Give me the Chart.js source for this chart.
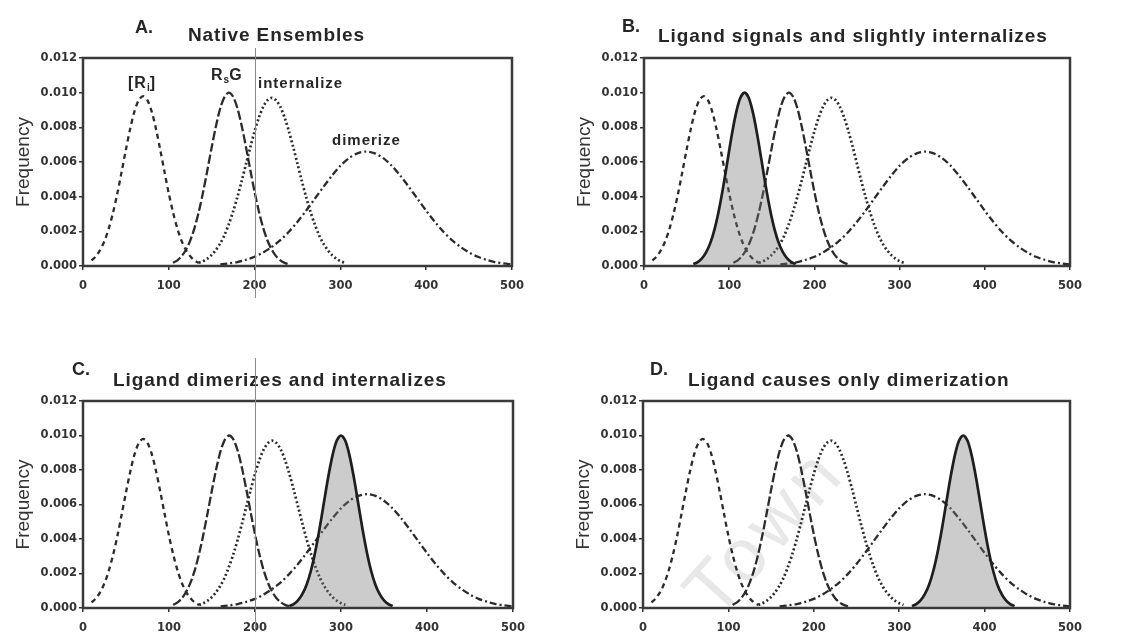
<!DOCTYPE html>
<html>
<head>
<meta charset="utf-8">
<script src="https://cdn.jsdelivr.net/npm/chart.js@4.4.1/dist/chart.umd.min.js"></script>
<style>
  body { margin: 0; width: 1125px; height: 632px; overflow: hidden; background: #fff; position: relative; font-family: "Liberation Sans", Arial, sans-serif; }
  canvas { position: absolute; }
  .t { position: absolute; font-weight: bold; color: #262626; white-space: nowrap; line-height: 20px; }
  .big { font-size: 19px; letter-spacing: 0.9px; }
  .lab { font-size: 15px; letter-spacing: 1px; }
  .lab sub { font-size: 10px; vertical-align: -3px; letter-spacing: 0; }
  .scan { position: absolute; width: 1px; background: #8a8a8a; }
  .wm { position: absolute; font-size: 74px; color: #e8e8e8; letter-spacing: 6px; transform: rotate(-48deg); transform-origin: center; }
</style>
</head>
<body>
<div class="wm" style="left:665px; top:488px;">Town</div>

<canvas id="chartA" width="535" height="290" style="left:0px; top:30px;"></canvas>
<canvas id="chartB" width="532" height="290" style="left:561px; top:30px;"></canvas>
<canvas id="chartC" width="536" height="289" style="left:0px; top:373px;"></canvas>
<canvas id="chartD" width="533" height="289" style="left:560px; top:373px;"></canvas>

<div class="t" style="left:135px; top:17px; font-size:18px;">A.</div>
<div class="t big" style="left:188px; top:25px;">Native Ensembles</div>
<div class="t" style="left:622px; top:16px; font-size:18px;">B.</div>
<div class="t big" style="left:658px; top:26px;">Ligand signals and slightly internalizes</div>
<div class="t" style="left:72px; top:359px; font-size:18px;">C.</div>
<div class="t big" style="left:113px; top:370px;">Ligand dimerizes and internalizes</div>
<div class="t" style="left:650px; top:359px; font-size:18px;">D.</div>
<div class="t big" style="left:688px; top:370px;">Ligand causes only dimerization</div>

<div class="t lab" style="left:128px; top:73px; font-size:16px;">[R<sub>i</sub>]</div>
<div class="t lab" style="left:211px; top:65px; font-size:16px;">R<sub>s</sub>G</div>
<div class="t lab" style="left:258px; top:73px;">internalize</div>
<div class="t lab" style="left:332px; top:130px;">dimerize</div>

<div class="scan" style="left:255px; top:48px; height:250px;"></div>
<div class="scan" style="left:255px; top:358px; height:274px;"></div>

<script>
// axis ticks
const xTicks = [0, 100, 200, 300, 400, 500];
const yTicks = [0, 0.002, 0.004, 0.006, 0.008, 0.010, 0.012];

// native ensembles (same in every panel)
const riX = [10, 15, 20, 25, 30, 35, 40, 45, 50, 55, 60, 65, 70, 75, 80, 85, 90, 95, 100, 105, 110, 115, 120, 125, 130, 135];
const riY = [0.00032, 0.00056, 0.00092, 0.00144, 0.00216, 0.00308, 0.00418, 0.00543, 0.00671, 0.00792, 0.00892, 0.00957, 0.0098,
             0.00957, 0.00892, 0.00792, 0.00671, 0.00543, 0.00418, 0.00308, 0.00216, 0.00144, 0.00092, 0.00056, 0.00032, 0.00018];

const rsgX = [105, 110, 115, 120, 125, 130, 135, 140, 145, 150, 155, 160, 165, 170, 175, 180, 185, 190, 195, 200, 205, 210, 215, 220, 225, 230, 235, 240];
const rsgY = [0.00018, 0.00033, 0.00057, 0.00094, 0.00147, 0.0022, 0.00314, 0.00427, 0.00554, 0.00685, 0.00808, 0.0091, 0.00976, 0.0100,
              0.00976, 0.0091, 0.00808, 0.00685, 0.00554, 0.00427, 0.00314, 0.0022, 0.00147, 0.00094, 0.00057, 0.00033, 0.00018, 0.0001];

const intX = [135, 140, 145, 150, 155, 160, 165, 170, 175, 180, 185, 190, 195, 200, 205, 210, 215, 220,
              225, 230, 235, 240, 245, 250, 255, 260, 265, 270, 275, 280, 285, 290, 295, 300, 305];
const intY = [0.00018, 0.00028, 0.00043, 0.00064, 0.00093, 0.00131, 0.0018, 0.00242, 0.00315, 0.00399, 0.00491, 0.00589, 0.00686, 0.00777, 0.00856, 0.00918, 0.00956, 0.0097,
              0.00956, 0.00918, 0.00856, 0.00777, 0.00686, 0.00589, 0.00491, 0.00399, 0.00315, 0.00242, 0.0018, 0.00131, 0.00093, 0.00064, 0.00043, 0.00028, 0.00018];

const dimX = [160, 170, 180, 190, 200, 210, 220, 230, 240, 250, 260, 270, 280, 290, 300, 310, 320, 330,
              340, 350, 360, 370, 380, 390, 400, 410, 420, 430, 440, 450, 460, 470, 480, 490, 500];
const dimY = [0.00009, 0.00015, 0.00023, 0.00036, 0.00053, 0.00078, 0.0011, 0.00149, 0.00198, 0.00255, 0.00319, 0.00387, 0.00455, 0.0052, 0.00578, 0.00622, 0.0065, 0.0066,
              0.0065, 0.00622, 0.00578, 0.0052, 0.00455, 0.00387, 0.00319, 0.00255, 0.00198, 0.00149, 0.0011, 0.00078, 0.00053, 0.00036, 0.00023, 0.00015, 0.00009];

// ligand-induced (shaded) ensembles
const shadedY = [0.00011, 0.00023, 0.00044, 0.0008, 0.00135, 0.00216, 0.00325, 0.00458, 0.00607, 0.00755, 0.00882, 0.00969, 0.0100,
                 0.00969, 0.00882, 0.00755, 0.00607, 0.00458, 0.00325, 0.00216, 0.00135, 0.0008, 0.00044, 0.00023, 0.00011];
const shadedBX = [58, 63, 68, 73, 78, 83, 88, 93, 98, 103, 108, 113, 118, 123, 128, 133, 138, 143, 148, 153, 158, 163, 168, 173, 178];
const shadedCX = [240, 245, 250, 255, 260, 265, 270, 275, 280, 285, 290, 295, 300, 305, 310, 315, 320, 325, 330, 335, 340, 345, 350, 355, 360];
const shadedDX = [315, 320, 325, 330, 335, 340, 345, 350, 355, 360, 365, 370, 375, 380, 385, 390, 395, 400, 405, 410, 415, 420, 425, 430, 435];

const ink = '#2b2b2b';

function pts(xs, ys) {
  return xs.map((x, i) => ({ x: x, y: ys[i] }));
}

function line(xs, ys, dash, width) {
  return {
    data: pts(xs, ys),
    borderColor: ink,
    borderWidth: width,
    borderDash: dash,
    pointRadius: 0,
    tension: 0.3,
    fill: false
  };
}

function nativeSets() {
  return [
    line(riX, riY, [5, 4], 2.3),
    line(rsgX, rsgY, [9, 3], 2.3),
    line(intX, intY, [2, 2.5], 2.7),
    line(dimX, dimY, [7, 3, 2, 3], 2.3)
  ];
}

function shaded(xs) {
  return {
    data: pts(xs, shadedY),
    borderColor: '#1e1e1e',
    borderWidth: 2.7,
    backgroundColor: 'rgba(120,120,120,0.38)',
    pointRadius: 0,
    tension: 0.3,
    fill: 'origin'
  };
}

// box around the plot area
const frame = {
  id: 'frame',
  afterDatasetsDraw(chart) {
    const a = chart.chartArea;
    const ctx = chart.ctx;
    ctx.save();
    ctx.strokeStyle = '#3a3a3a';
    ctx.lineWidth = 2.5;
    ctx.strokeRect(a.left, a.top, a.right - a.left, a.bottom - a.top);
    ctx.restore();
  }
};

const tickFont = { family: 'DejaVu Sans', weight: 'bold', size: 11.5 };

function makePanel(id, datasets, pad) {
  new Chart(document.getElementById(id), {
    type: 'line',
    data: { datasets: datasets },
    options: {
      responsive: false,
      animation: false,
      devicePixelRatio: 1,
      layout: { padding: pad },
      plugins: { legend: { display: false }, tooltip: { enabled: false } },
      scales: {
        x: {
          type: 'linear',
          min: xTicks[0],
          max: xTicks[xTicks.length - 1],
          afterBuildTicks: s => { s.ticks = xTicks.map(v => ({ value: v })); },
          afterFit: s => { s.height = 30; },
          border: { display: false },
          grid: { drawOnChartArea: false, tickLength: 4, color: '#333', lineWidth: 1.5 },
          ticks: { padding: 9, color: '#333', font: tickFont, maxRotation: 0 }
        },
        y: {
          min: yTicks[0],
          max: yTicks[yTicks.length - 1],
          afterBuildTicks: s => { s.ticks = yTicks.map(v => ({ value: v })); },
          afterFit: s => { s.width = 83; },
          border: { display: false },
          grid: { drawOnChartArea: false, tickLength: 4, color: '#333', lineWidth: 1.5 },
          ticks: { padding: 2, color: '#333', font: tickFont, callback: v => v.toFixed(3) },
          title: {
            display: true,
            text: 'Frequency',
            color: '#333',
            padding: { top: 12, bottom: 0 },
            font: { family: 'Liberation Sans', size: 19 }
          }
        }
      }
    },
    plugins: [frame]
  });
}

makePanel('chartA', nativeSets(), { top: 28, right: 23, bottom: 24, left: 0 });
makePanel('chartB', [shaded(shadedBX)].concat(nativeSets()), { top: 28, right: 23, bottom: 24, left: 0 });
makePanel('chartC', [shaded(shadedCX)].concat(nativeSets()), { top: 28, right: 23, bottom: 24, left: 0 });
makePanel('chartD', [shaded(shadedDX)].concat(nativeSets()), { top: 28, right: 23, bottom: 24, left: 0 });
</script>
</body>
</html>
